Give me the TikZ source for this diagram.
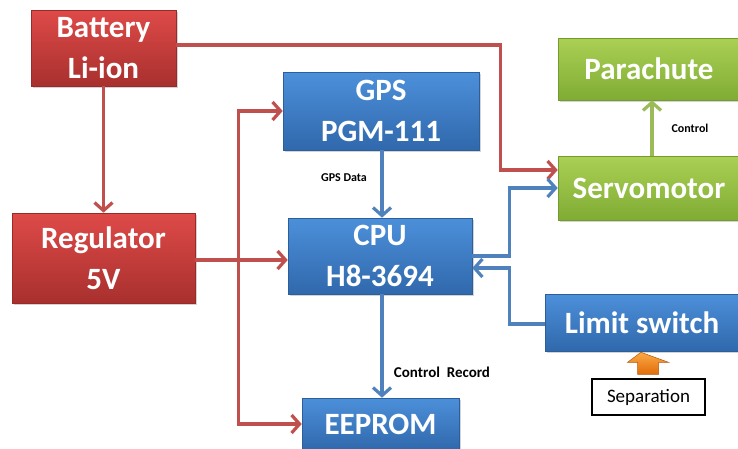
\documentclass[tikz,border=0pt]{standalone}
\usepackage{fontspec}
\setmainfont{Carlito}
\usetikzlibrary{arrows.meta,calc,shadows}
\definecolor{rtop}{RGB}{222,74,72}
\definecolor{rbot}{RGB}{168,48,46}
\definecolor{btop}{RGB}{76,144,218}
\definecolor{bbot}{RGB}{48,104,172}
\definecolor{gtop}{RGB}{170,208,84}
\definecolor{gbot}{RGB}{128,172,52}
\definecolor{rline}{RGB}{192,80,77}
\definecolor{bline}{RGB}{79,129,189}
\definecolor{gline}{RGB}{155,187,89}
\definecolor{otop}{RGB}{250,170,70}
\definecolor{obot}{RGB}{226,108,10}
\tikzset{
  blockbox/.style={rectangle, inner sep=0pt, align=center, text=white,
    font=\fontsize{31}{41}\selectfont\bfseries,
    drop shadow={shadow xshift=1.5pt, shadow yshift=-1.5pt, opacity=0.35}},
  redbox/.style={blockbox, top color=rtop, bottom color=rbot, draw=rbot!90!black, line width=0.6pt},
  bluebox/.style={blockbox, top color=btop, bottom color=bbot, draw=bbot!90!black, line width=0.6pt},
  greenbox/.style={blockbox, top color=gtop, bottom color=gbot, draw=gbot!90!black, line width=0.6pt},
  conn/.style={line width=3.4pt, -{Straight Barb[length=8pt,width=18pt,line width=3.2pt]}},
  redconn/.style={conn, draw=rline},
  blueconn/.style={conn, draw=bline},
  greenconn/.style={conn, draw=gline},
  smalllabel/.style={font=\fontsize{12}{14}\selectfont\bfseries, text=black, inner sep=1pt},
}
\begin{document}
\begin{tikzpicture}[x=1pt,y=-1pt]
\useasboundingbox (0,0) rectangle (738,448);
% boxes
\node[redbox, minimum width=145pt, minimum height=76pt] (bat) at (103.5,48) {Battery\\Li-ion};
\node[redbox, minimum width=183pt, minimum height=90pt] (reg) at (103.5,258) {Regulator\\5V};
\node[bluebox, minimum width=196pt, minimum height=78pt] (gps) at (381,111) {GPS\\PGM-111};
\node[bluebox, minimum width=184pt, minimum height=76pt] (cpu) at (380,256) {CPU\\H8-3694};
\node[bluebox, minimum width=157pt, minimum height=52pt] (eep) at (380.5,424) {EEPROM};
\node[greenbox, minimum width=182pt, minimum height=62pt] (para) at (649,69) {Parachute};
\node[greenbox, minimum width=182pt, minimum height=64pt] (servo) at (649,188) {Servomotor};
\node[bluebox, minimum width=194pt, minimum height=57pt] (lim) at (642,322.5) {Limit switch};
\node[draw=black, line width=1.4pt, fill=white, minimum width=113pt, minimum height=36pt,
      font=\fontsize{19}{21}\selectfont, inner sep=0pt] (sep) at (648.5,397) {Separation};
% red connectors
\draw[redconn] ([yshift=3pt]bat.east) -- ++(324,0) |- ($(servo.west)+(0,-18)$);
\draw[redconn] (bat.south) -- (reg.north);
\coordinate (j) at ($(reg.east)+(43,0)$);
\draw[redconn] ([yshift=-2pt]reg.east) -- ([yshift=-2pt]reg.east -| cpu.west);
\draw[redconn] ([yshift=-2pt]j) |- (gps.west);
\draw[redconn] ([yshift=-2pt]j) |- (eep.west);
% blue connectors
\draw[blueconn] ([xshift=1pt]gps.south) -- ([xshift=1pt]gps.south |- cpu.north);
\draw[blueconn] ([xshift=2pt]cpu.south) -- ([xshift=2pt]cpu.south |- eep.north);
\draw[blueconn] (cpu.east) -- ++(37,0) |- (servo.west);
\draw[blueconn] ([yshift=-1.5pt]lim.west) -- ++(-35,0) |- ($(cpu.east)+(0,12)$);
% green connector
\draw[greenconn] ([xshift=3pt]servo.north) -- ([xshift=3pt]servo.north |- para.south);
% orange block arrow
\shade[top color=otop, bottom color=obot, draw=obot!80!black, line width=0.5pt]
  ($(sep.north)+(-11,-4)$) -- ($(sep.north)+(-11,-16)$) -- ($(sep.north)+(-21,-16)$)
  -- ($(lim.south)+(-1,1)$) -- ($(sep.north)+(20,-16)$) -- ($(sep.north)+(10,-16)$)
  -- ($(sep.north)+(10,-4)$) -- cycle;
% labels
\node[smalllabel] (lgps) at (344,178) {GPS Data};
\node[smalllabel] (lctl) at (690,128) {Control};
\node[smalllabel, font=\fontsize{15}{17}\selectfont\bfseries] (lrec) at (442,372) {Control\ \ Record};
\end{tikzpicture}
\end{document}
